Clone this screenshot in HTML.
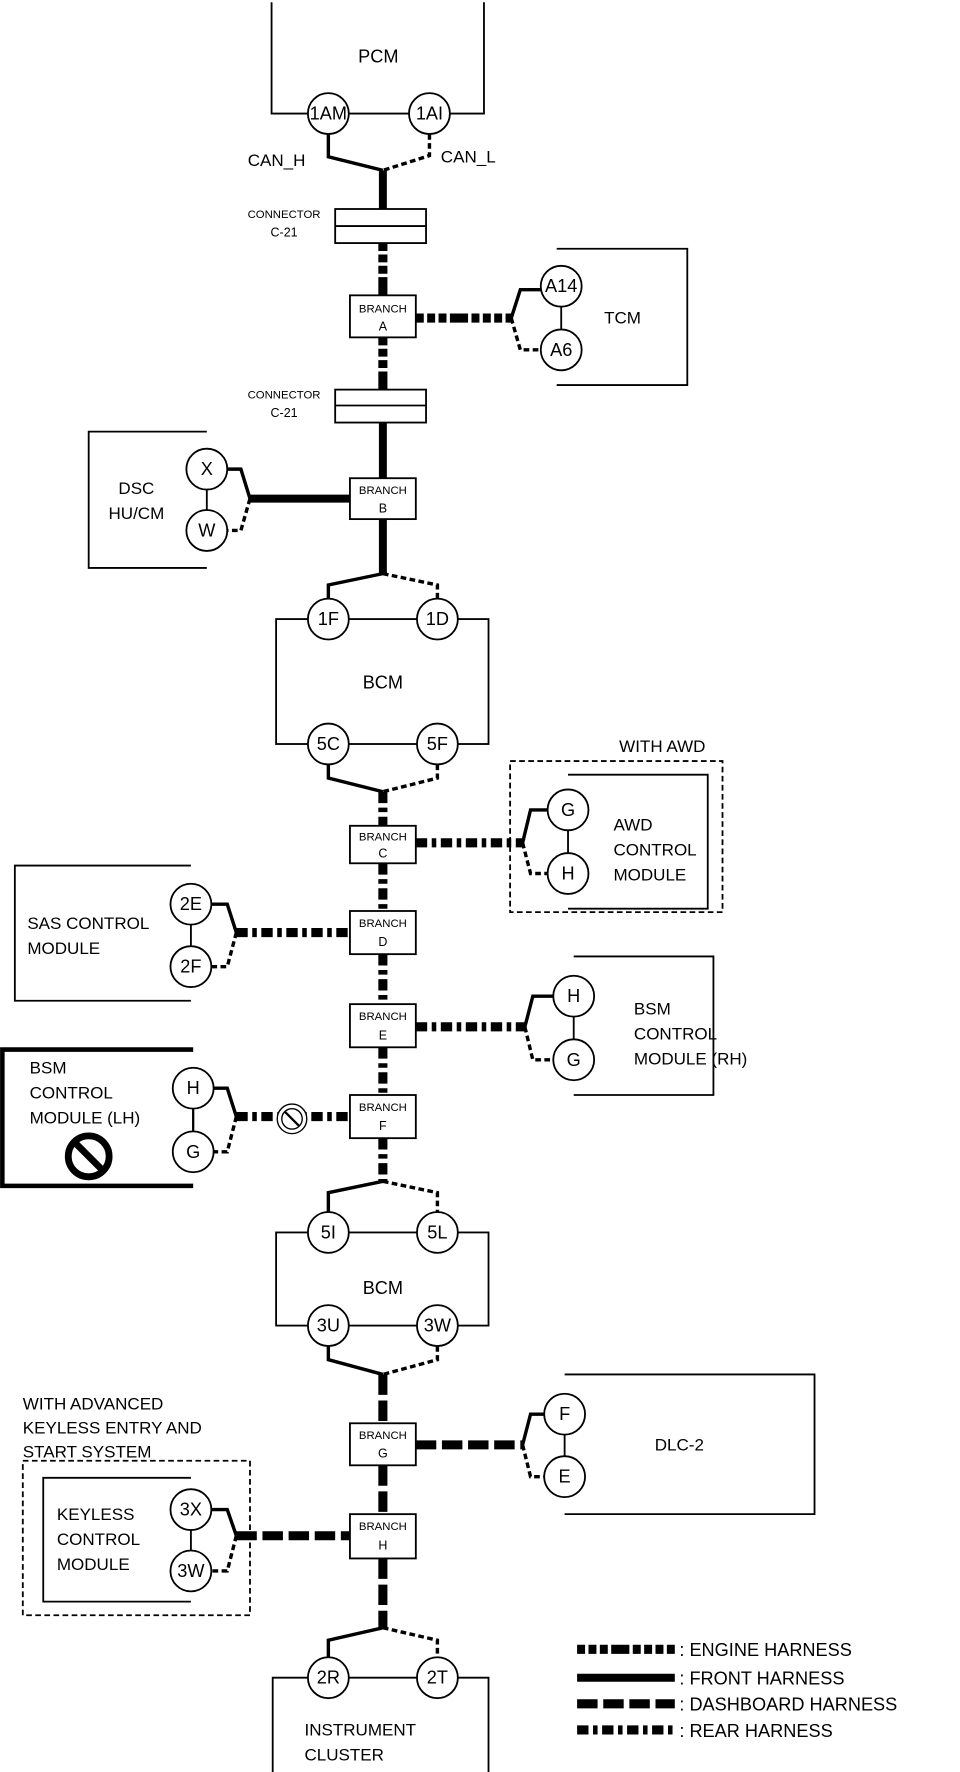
<!DOCTYPE html>
<html><head><meta charset="utf-8"><style>
html,body{margin:0;padding:0;background:#fff}
svg{display:block}
text{font-family:"Liberation Sans",Arial,sans-serif;fill:#000}
.b{fill:#fff;stroke:#000;stroke-width:1.6}
.c{fill:#fff;stroke:#000;stroke-width:1.6}
.ct{font-size:16px;text-anchor:middle;dominant-baseline:central}
.lb{font-size:15px}
.br{font-size:10px;text-anchor:middle}
.eng{stroke:#000;stroke-width:8;fill:none;stroke-dasharray:7 3 7 3 7 3 16 3}
.frt{stroke:#000;stroke-width:7;fill:none}
.dsh{stroke:#000;stroke-width:8;fill:none;stroke-dasharray:18 5}
.rer{stroke:#000;stroke-width:8;fill:none;stroke-dasharray:10 4 4 4}
.w{stroke:#000;stroke-width:3;fill:none}
.wd{stroke:#000;stroke-width:3;fill:none;stroke-dasharray:5 3}
</style></head><body>
<svg width="960" height="1772" viewBox="0 0 845 1560" xmlns="http://www.w3.org/2000/svg">
<!-- PCM -->
<path d="M239 2 V100 H426 V2" class="b"/>
<text x="333" y="55" class="lb" text-anchor="middle" style="font-size:16px">PCM</text>
<circle cx="289" cy="100" r="18" class="c"/><text x="289" y="100" class="ct">1AM</text>
<circle cx="378" cy="100" r="18" class="c"/><text x="378" y="100" class="ct">1AI</text>
<path d="M289 118 V138 L337 150" class="w"/>
<path d="M378 118 V137 L337 150" class="wd"/>
<text x="218" y="146" class="lb">CAN_H</text>
<text x="388" y="143" class="lb">CAN_L</text>
<path d="M337 150 V184" class="frt"/>
<!-- connector 1 -->
<rect x="295" y="184" width="80" height="30" class="b"/><line x1="295" y1="199" x2="375" y2="199" stroke="#000" stroke-width="1.6"/>
<text x="250" y="192" class="br">CONNECTOR</text><text x="250" y="208" class="br" style="font-size:11px">C-21</text>
<path d="M337 214 V260" class="eng"/>
<rect x="308" y="260" width="58" height="37" class="b"/>
<text x="337" y="275" class="br">BRANCH</text><text x="337" y="291" class="br" style="font-size:11px">A</text>
<path d="M366 280 H450" class="eng"/>
<path d="M490 219 H605 V339 H490" class="b"/>
<line x1="494" y1="252" x2="494" y2="308" stroke="#000" stroke-width="1.6"/>
<circle cx="494" cy="252" r="18" class="c"/><text x="494" y="252" class="ct">A14</text>
<circle cx="494" cy="308" r="18" class="c"/><text x="494" y="308" class="ct">A6</text>
<path d="M450 280 L458 255 H476" class="w"/><path d="M450 280 L458 308 H476" class="wd"/>
<text x="548" y="285" class="lb" text-anchor="middle">TCM</text>
<path d="M337 297 V343" class="eng"/>
<rect x="295" y="343" width="80" height="29" class="b"/><line x1="295" y1="357" x2="375" y2="357" stroke="#000" stroke-width="1.6"/>
<text x="250" y="351" class="br">CONNECTOR</text><text x="250" y="367" class="br" style="font-size:11px">C-21</text>
<path d="M337 372 V421" class="frt"/>
<rect x="308" y="421" width="58" height="36" class="b"/>
<text x="337" y="435" class="br">BRANCH</text><text x="337" y="451" class="br" style="font-size:11px">B</text>
<path d="M220 439 H308" class="frt"/>
<path d="M182 380 H78 V500 H182" class="b"/>
<line x1="182" y1="413" x2="182" y2="467" stroke="#000" stroke-width="1.6"/>
<circle cx="182" cy="413" r="18" class="c"/><text x="182" y="413" class="ct">X</text>
<circle cx="182" cy="467" r="18" class="c"/><text x="182" y="467" class="ct">W</text>
<path d="M220 439 L212 413 H200" class="w"/><path d="M220 439 L212 467 H200" class="wd"/>
<text x="120" y="435" class="lb" text-anchor="middle">DSC</text><text x="120" y="457" class="lb" text-anchor="middle">HU/CM</text>
<path d="M337 457 V505" class="frt"/>
<path d="M337 505 L289 515 V527" class="w"/><path d="M337 505 L385 515 V527" class="wd"/>
<!-- BCM1 -->
<rect x="243" y="545" width="187" height="110" class="b"/>
<circle cx="289" cy="545" r="18" class="c"/><text x="289" y="545" class="ct">1F</text>
<circle cx="385" cy="545" r="18" class="c"/><text x="385" y="545" class="ct">1D</text>
<circle cx="289" cy="655" r="18" class="c"/><text x="289" y="655" class="ct">5C</text>
<circle cx="385" cy="655" r="18" class="c"/><text x="385" y="655" class="ct">5F</text>
<text x="337" y="606" class="lb" text-anchor="middle" style="font-size:16px">BCM</text>
<path d="M289 673 V685 L337 697" class="w"/><path d="M385 673 V685 L337 697" class="wd"/>
<path d="M337 697 V727" class="rer"/>
<rect x="308" y="727" width="58" height="33" class="b"/>
<text x="337" y="740" class="br">BRANCH</text><text x="337" y="755" class="br" style="font-size:11px">C</text>
<path d="M366 742 H460" class="rer"/>
<rect x="449" y="670" width="187" height="133" fill="none" stroke="#000" stroke-width="1.6" stroke-dasharray="5 3"/>
<text x="545" y="662" class="lb">WITH AWD</text>
<path d="M500 682 H623 V800 H500" class="b"/>
<line x1="500" y1="713" x2="500" y2="769" stroke="#000" stroke-width="1.6"/>
<circle cx="500" cy="713" r="18" class="c"/><text x="500" y="713" class="ct">G</text>
<circle cx="500" cy="769" r="18" class="c"/><text x="500" y="769" class="ct">H</text>
<path d="M460 742 L467 713 H482" class="w"/><path d="M460 742 L467 769 H482" class="wd"/>
<text x="540" y="731" class="lb">AWD</text><text x="540" y="753" class="lb">CONTROL</text><text x="540" y="775" class="lb">MODULE</text>
<path d="M337 760 V802" class="rer"/>
<rect x="308" y="802" width="58" height="38" class="b"/>
<text x="337" y="816" class="br">BRANCH</text><text x="337" y="833" class="br" style="font-size:11px">D</text>
<path d="M208 821 H308" class="rer"/>
<path d="M168 762 H13 V881 H168" class="b"/>
<line x1="168" y1="796" x2="168" y2="851" stroke="#000" stroke-width="1.6"/>
<circle cx="168" cy="796" r="18" class="c"/><text x="168" y="796" class="ct">2E</text>
<circle cx="168" cy="851" r="18" class="c"/><text x="168" y="851" class="ct">2F</text>
<path d="M208 821 L200 796 H186" class="w"/><path d="M208 821 L200 851 H186" class="wd"/>
<text x="24" y="818" class="lb">SAS CONTROL</text><text x="24" y="840" class="lb">MODULE</text>
<path d="M337 840 V884" class="rer"/>
<rect x="308" y="884" width="58" height="38" class="b"/>
<text x="337" y="898" class="br">BRANCH</text><text x="337" y="915" class="br" style="font-size:11px">E</text>
<path d="M366 904 H462" class="rer"/>
<path d="M505 842 H628 V964 H505" class="b"/>
<line x1="505" y1="877" x2="505" y2="933" stroke="#000" stroke-width="1.6"/>
<circle cx="505" cy="877" r="18" class="c"/><text x="505" y="877" class="ct">H</text>
<circle cx="505" cy="933" r="18" class="c"/><text x="505" y="933" class="ct">G</text>
<path d="M462 904 L469 877 H487" class="w"/><path d="M462 904 L469 933 H487" class="wd"/>
<text x="558" y="893" class="lb">BSM</text><text x="558" y="915" class="lb">CONTROL</text><text x="558" y="937" class="lb">MODULE (RH)</text>
<path d="M337 922 V964" class="rer"/>
<rect x="308" y="964" width="58" height="38" class="b"/>
<text x="337" y="978" class="br">BRANCH</text><text x="337" y="995" class="br" style="font-size:11px">F</text>
<path d="M208 983 H308" class="rer"/>
<circle cx="257" cy="985" r="13" fill="#fff" stroke="#000" stroke-width="1.2"/>
<circle cx="257" cy="985" r="9" fill="none" stroke="#000" stroke-width="1.2"/>
<line x1="251" y1="979" x2="263" y2="991" stroke="#000" stroke-width="2"/>
<path d="M170 924 H2 V1044 H170" fill="#fff" stroke="#000" stroke-width="4"/>
<line x1="170" y1="958" x2="170" y2="1014" stroke="#000" stroke-width="2"/>
<circle cx="170" cy="958" r="18" class="c"/><text x="170" y="958" class="ct">H</text>
<circle cx="170" cy="1014" r="18" class="c"/><text x="170" y="1014" class="ct">G</text>
<path d="M208 983 L200 958 H188" class="w"/><path d="M208 983 L200 1014 H188" class="wd"/>
<text x="26" y="945" class="lb">BSM</text><text x="26" y="967" class="lb">CONTROL</text><text x="26" y="989" class="lb">MODULE (LH)</text>
<circle cx="78" cy="1018" r="18" fill="none" stroke="#000" stroke-width="6"/>
<line x1="66" y1="1006" x2="90" y2="1030" stroke="#000" stroke-width="6"/>
<path d="M337 1002 V1040" class="rer"/>
<path d="M337 1040 L289 1050 V1067" class="w"/><path d="M337 1040 L385 1050 V1067" class="wd"/>
<!-- BCM2 -->
<rect x="243" y="1085" width="187" height="82" class="b"/>
<circle cx="289" cy="1085" r="18" class="c"/><text x="289" y="1085" class="ct">5I</text>
<circle cx="385" cy="1085" r="18" class="c"/><text x="385" y="1085" class="ct">5L</text>
<circle cx="289" cy="1167" r="18" class="c"/><text x="289" y="1167" class="ct">3U</text>
<circle cx="385" cy="1167" r="18" class="c"/><text x="385" y="1167" class="ct">3W</text>
<text x="337" y="1139" class="lb" text-anchor="middle" style="font-size:16px">BCM</text>
<path d="M289 1185 V1197 L337 1210" class="w"/><path d="M385 1185 V1197 L337 1210" class="wd"/>
<path d="M337 1210 V1253" class="dsh"/>
<rect x="308" y="1253" width="58" height="37" class="b"/>
<text x="337" y="1267" class="br">BRANCH</text><text x="337" y="1283" class="br" style="font-size:11px">G</text>
<path d="M366 1272 H460" class="dsh"/>
<path d="M497 1210 H717 V1333 H497" class="b"/>
<line x1="497" y1="1245" x2="497" y2="1300" stroke="#000" stroke-width="1.6"/>
<circle cx="497" cy="1245" r="18" class="c"/><text x="497" y="1245" class="ct">F</text>
<circle cx="497" cy="1300" r="18" class="c"/><text x="497" y="1300" class="ct">E</text>
<path d="M460 1272 L467 1245 H479" class="w"/><path d="M460 1272 L467 1300 H479" class="wd"/>
<text x="598" y="1277" class="lb" text-anchor="middle">DLC-2</text>
<path d="M337 1290 V1333" class="dsh"/>
<rect x="308" y="1333" width="58" height="39" class="b"/>
<text x="337" y="1347" class="br">BRANCH</text><text x="337" y="1364" class="br" style="font-size:11px">H</text>
<path d="M208 1352 H308" class="dsh"/>
<text x="20" y="1241" class="lb">WITH ADVANCED</text><text x="20" y="1262" class="lb">KEYLESS ENTRY  AND</text><text x="20" y="1283" class="lb">START SYSTEM</text>
<rect x="20" y="1286" width="200" height="136" fill="none" stroke="#000" stroke-width="1.6" stroke-dasharray="5 3"/>
<path d="M168 1301 H38 V1410 H168" class="b"/>
<line x1="168" y1="1329" x2="168" y2="1383" stroke="#000" stroke-width="1.6"/>
<circle cx="168" cy="1329" r="18" class="c"/><text x="168" y="1329" class="ct">3X</text>
<circle cx="168" cy="1383" r="18" class="c"/><text x="168" y="1383" class="ct">3W</text>
<path d="M208 1352 L200 1329 H186" class="w"/><path d="M208 1352 L200 1383 H186" class="wd"/>
<text x="50" y="1338" class="lb">KEYLESS</text><text x="50" y="1360" class="lb">CONTROL</text><text x="50" y="1382" class="lb">MODULE</text>
<path d="M337 1372 V1433" class="dsh"/>
<path d="M337 1433 L289 1444 V1459" class="w"/><path d="M337 1433 L385 1444 V1459" class="wd"/>
<path d="M240 1560 V1477 H430 V1560" class="b"/>
<circle cx="289" cy="1477" r="18" class="c"/><text x="289" y="1477" class="ct">2R</text>
<circle cx="385" cy="1477" r="18" class="c"/><text x="385" y="1477" class="ct">2T</text>
<text x="268" y="1528" class="lb">INSTRUMENT</text><text x="268" y="1550" class="lb">CLUSTER</text>
<!-- legend -->
<path d="M508 1452 H594" class="eng"/><text x="598" y="1458" class="lb" style="font-size:16px">: ENGINE HARNESS</text>
<path d="M508 1477 H594" class="frt"/><text x="598" y="1483" class="lb" style="font-size:16px">: FRONT HARNESS</text>
<path d="M508 1500 H594" class="dsh"/><text x="598" y="1506" class="lb" style="font-size:16px">: DASHBOARD HARNESS</text>
<path d="M508 1523 H594" class="rer"/><text x="598" y="1529" class="lb" style="font-size:16px">: REAR HARNESS</text>
</svg>
</body></html>
